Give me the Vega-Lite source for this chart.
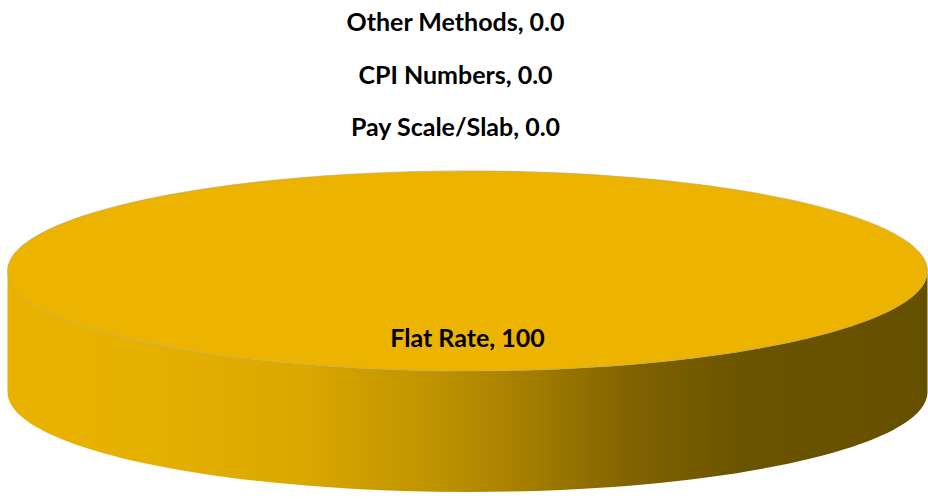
{
  "$schema": "https://vega.github.io/schema/vega-lite/v6.json",
  "width": 928,
  "height": 499,
  "autosize": {"type": "fit", "contains": "padding"},
  "padding": 0,
  "background": "white",
  "config": {"view": {"stroke": null}},
  "data": {"values": [
    {"method": "Flat Rate", "value": 100, "label": "Flat Rate, 100"},
    {"method": "Pay Scale/Slab", "value": 0, "label": "Pay Scale/Slab, 0.0"},
    {"method": "CPI Numbers", "value": 0, "label": "CPI Numbers, 0.0"},
    {"method": "Other Methods", "value": 0, "label": "Other Methods, 0.0"}
  ]},
  "layer": [
    {
      "transform": [{"filter": "datum.value > 0"}],
      "mark": {
        "type": "point",
        "filled": true,
        "x": {"expr": "width/2 + 5"},
        "y": {"expr": "height*0.543"},
        "size": 846400,
        "opacity": 1,
        "shape": "M -1 0 C -1 0.1201 -0.5523 0.2174 0 0.2174 C 0.5523 0.2174 1 0.1201 1 0 L 1 0.2630 C 1 0.3831 0.5523 0.4804 0 0.4804 C -0.5523 0.4804 -1 0.3831 -1 0.2630 Z",
        "color": {
          "gradient": "linear", "x1": 0, "y1": 0, "x2": 1, "y2": 0,
          "stops": [
            {"offset": 0, "color": "#E9B200"},
            {"offset": 0.15, "color": "#E6B000"},
            {"offset": 0.32, "color": "#DAA800"},
            {"offset": 0.46, "color": "#C09300"},
            {"offset": 0.56, "color": "#A67F00"},
            {"offset": 0.68, "color": "#806300"},
            {"offset": 0.8, "color": "#6B5400"},
            {"offset": 1, "color": "#655000"}
          ]
        }
      },
      "encoding": {}
    },
    {
      "transform": [{"filter": "datum.value > 0"}],
      "mark": {
        "type": "point",
        "filled": true,
        "x": {"expr": "width/2 + 5"},
        "y": {"expr": "height*0.543"},
        "size": 846400,
        "opacity": 1,
        "color": "#ECB300",
        "stroke": "#b8a46a",
        "strokeWidth": 0.6,
        "shape": "M -1 0 C -1 -0.1201 -0.5523 -0.2174 0 -0.2174 C 0.5523 -0.2174 1 -0.1201 1 0 C 1 0.1201 0.5523 0.2174 0 0.2174 C -0.5523 0.2174 -1 0.1201 -1 0 Z"
      },
      "encoding": {}
    },
    {
      "transform": [{"filter": "datum.value > 0"}],
      "mark": {
        "type": "text",
        "x": {"expr": "width/2 + 5"},
        "y": {"expr": "height*0.679"},
        "font": "Lato",
        "fontWeight": "bold",
        "fontSize": 25,
        "color": "#000000",
        "align": "center",
        "baseline": "middle"
      },
      "encoding": {"text": {"field": "label"}}
    },
    {
      "transform": [{"filter": "datum.value == 0"}],
      "mark": {
        "type": "text",
        "font": "Lato",
        "fontWeight": "bold",
        "fontSize": 25,
        "color": "#000000",
        "align": "center",
        "baseline": "middle"
      },
      "encoding": {
        "x": {"value": {"expr": "width/2 - 7"}},
        "y": {
          "field": "method",
          "type": "nominal",
          "axis": null,
          "sort": ["Other Methods", "CPI Numbers", "Pay Scale/Slab"],
          "scale": {"type": "point", "range": [23, 128], "padding": 0}
        },
        "text": {"field": "label"}
      }
    }
  ]
}
